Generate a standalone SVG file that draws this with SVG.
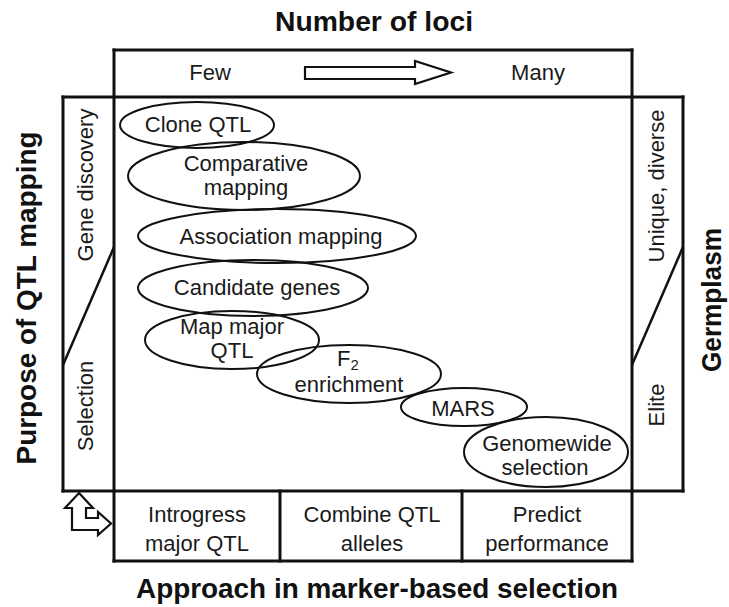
<svg xmlns="http://www.w3.org/2000/svg" width="729" height="607" viewBox="0 0 729 607">
<style>
.ln{fill:none;stroke:#111;stroke-width:3;stroke-linecap:square}
.dg{fill:none;stroke:#111;stroke-width:2.5}
.el{fill:none;stroke:#111;stroke-width:2}
.ar{fill:#fff;stroke:#111;stroke-width:2.2;stroke-linejoin:miter}
.t{font-family:"Liberation Sans",Arial,sans-serif;font-size:22px;fill:#1a1a1a;text-anchor:middle}
.b{font-family:"Liberation Sans",Arial,sans-serif;font-size:27px;font-weight:bold;fill:#111;text-anchor:middle}
</style>
<rect width="729" height="607" fill="#fff"/>

<g id="frame">
  <line class="ln" x1="114" y1="50" x2="632" y2="50"/>
  <line class="ln" x1="114" y1="50" x2="114" y2="561"/>
  <line class="ln" x1="632" y1="50" x2="632" y2="561"/>
  <line class="ln" x1="63" y1="97" x2="683" y2="97"/>
  <line class="ln" x1="63" y1="491" x2="683" y2="491"/>
  <line class="ln" x1="63" y1="97" x2="63" y2="491"/>
  <line class="ln" x1="683" y1="97" x2="683" y2="491"/>
  <line class="ln" x1="114" y1="561" x2="632" y2="561"/>
  <line class="ln" x1="280" y1="491" x2="280" y2="561"/>
  <line class="ln" x1="462" y1="491" x2="462" y2="561"/>
  <line class="dg" x1="114" y1="247" x2="63" y2="365"/>
  <line class="dg" x1="683" y1="247" x2="632" y2="365"/>
</g>

<g id="titles">
  <text class="b" x="374" y="31" textLength="198" lengthAdjust="spacingAndGlyphs">Number of loci</text>
  <text class="b" x="377" y="598" textLength="482" lengthAdjust="spacingAndGlyphs">Approach in marker-based selection</text>
  <text class="b" transform="translate(36,298) rotate(-90)" textLength="333" lengthAdjust="spacingAndGlyphs">Purpose of QTL mapping</text>
  <text class="b" transform="translate(721,300) rotate(-90)" textLength="144" lengthAdjust="spacingAndGlyphs">Germplasm</text>
</g>

<g id="loci-scale">
  <text class="t" x="210" y="80">Few</text>
  <text class="t" x="538" y="80">Many</text>
</g>

<g id="purpose-scale">
  <text class="t" transform="translate(93,185) rotate(-90)">Gene discovery</text>
  <text class="t" transform="translate(93,406) rotate(-90)">Selection</text>
</g>

<g id="germplasm-scale">
  <text class="t" transform="translate(664,186) rotate(-90)">Unique, diverse</text>
  <text class="t" transform="translate(664,405) rotate(-90)">Elite</text>
</g>

<g id="approach-introgress">
  <text class="t" x="197" y="522">Introgress</text>
  <text class="t" x="197" y="551">major QTL</text>
</g>
<g id="approach-combine">
  <text class="t" x="372" y="522">Combine QTL</text>
  <text class="t" x="372" y="551">alleles</text>
</g>
<g id="approach-predict">
  <text class="t" x="547" y="522">Predict</text>
  <text class="t" x="547" y="551">performance</text>
</g>

<g id="clone-qtl">
  <ellipse class="el" cx="197" cy="125" rx="77" ry="23"/>
  <text class="t" x="198" y="132">Clone QTL</text>
</g>
<g id="comparative-mapping">
  <ellipse class="el" cx="244" cy="176" rx="116" ry="34"/>
  <text class="t" x="246" y="171">Comparative</text>
  <text class="t" x="246" y="195">mapping</text>
</g>
<g id="association-mapping">
  <ellipse class="el" cx="277" cy="236" rx="139" ry="27"/>
  <text class="t" x="281" y="244">Association mapping</text>
</g>
<g id="candidate-genes">
  <ellipse class="el" cx="253" cy="288" rx="115" ry="28"/>
  <text class="t" x="257" y="295">Candidate genes</text>
</g>
<g id="map-major-qtl">
  <ellipse class="el" cx="232" cy="340" rx="87" ry="29"/>
  <text class="t" x="232" y="334">Map major</text>
  <text class="t" x="232" y="358">QTL</text>
</g>
<g id="f2-enrichment">
  <ellipse class="el" cx="349" cy="374" rx="92" ry="29"/>
  <text class="t" x="348" y="366">F<tspan font-size="15" dy="4">2</tspan></text>
  <text class="t" x="349" y="392">enrichment</text>
</g>
<g id="mars">
  <ellipse class="el" cx="464" cy="407" rx="63" ry="19"/>
  <text class="t" x="463" y="416">MARS</text>
</g>
<g id="genomewide-selection">
  <ellipse class="el" cx="546" cy="452" rx="82" ry="35"/>
  <text class="t" x="547" y="451">Genomewide</text>
  <text class="t" x="545" y="475">selection</text>
</g>

<g id="connectors">
  <polygon class="ar" points="305,67 415,67 415,61 451,72.5 415,84 415,79 305,79"/>
  <polygon class="ar" points="79,493 93,508 86,508 86,518 98,518 98,512 111,523.5 98,535 98,530 72,530 72,508 65,508"/>
</g>
</svg>
